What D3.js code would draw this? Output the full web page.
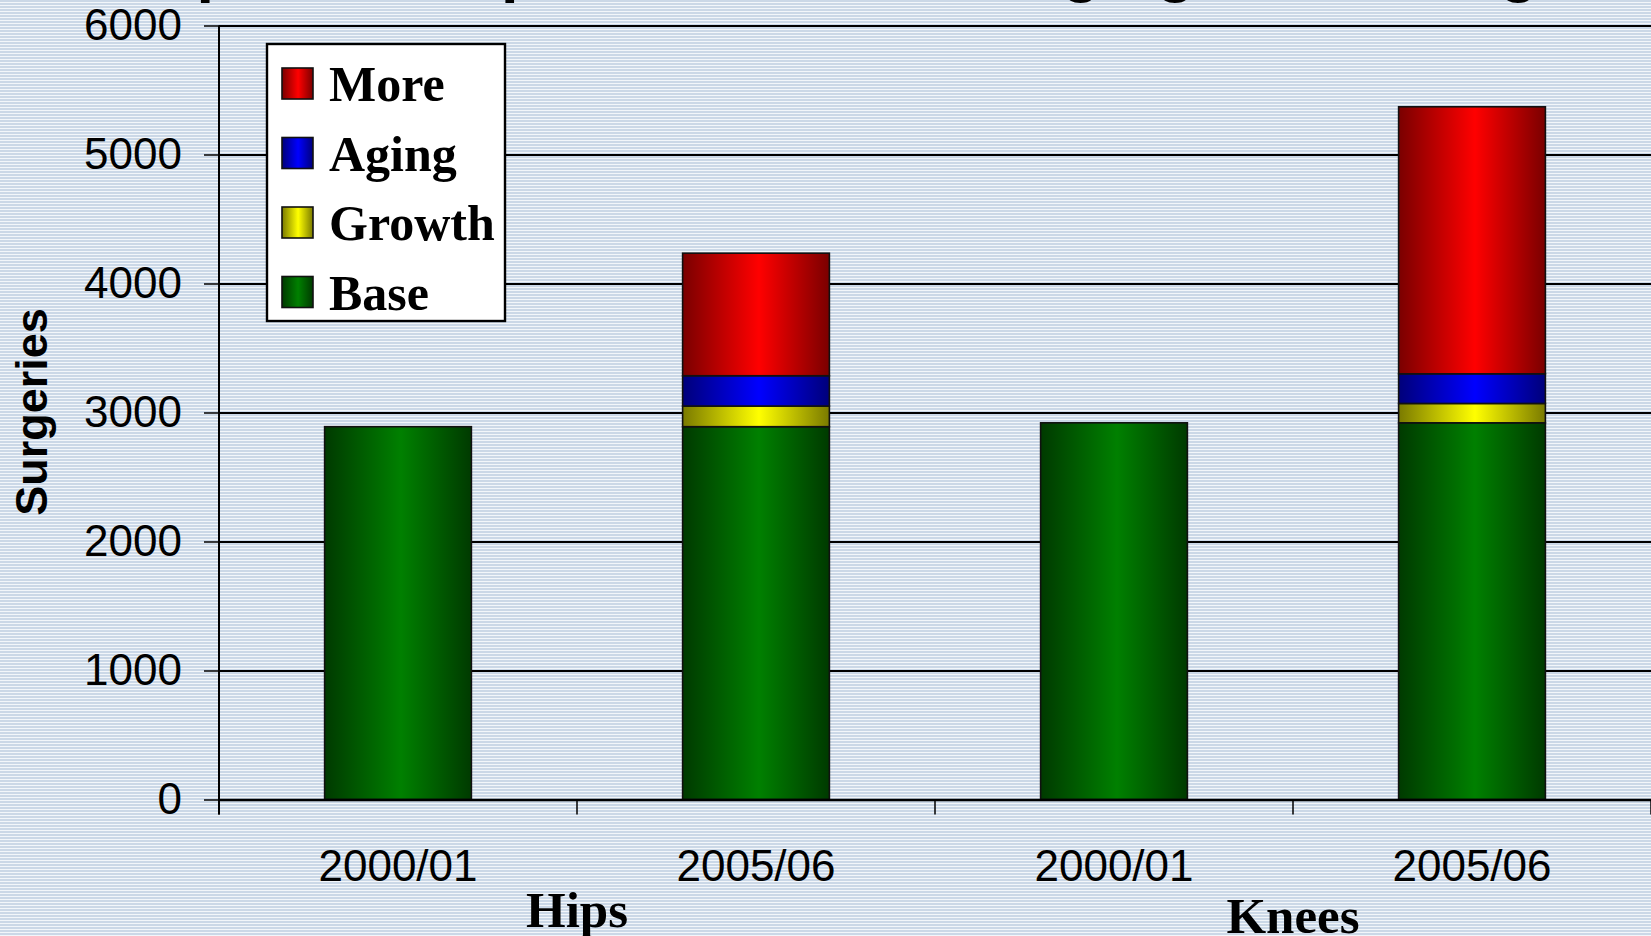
<!DOCTYPE html>
<html><head><meta charset="utf-8">
<script src="https://cdn.jsdelivr.net/npm/d3@7"></script>
<style>body{margin:0;overflow:hidden;background:#fff} svg{display:block}</style>
</head><body>
<script>
// ---- data ----
const categories = ["2000/01", "2005/06", "2000/01", "2005/06"];
const groups = ["Hips", "Knees"];
const base   = [2890, 2890, 2920, 2920];
const growth = [0, 160, 0, 150];
const aging  = [0, 235, 0, 230];
const more   = [0, 950, 0, 2070];
const seriesNames = ["Base", "Growth", "Aging", "More"];
const yTicks = [0, 1000, 2000, 3000, 4000, 5000, 6000];
const yTitle = "Surgeries";
const titleText = "Impact of Population Growth, Aging and Change";

// ---- layout ----
const W = 1651, H = 936;
const plot = {left: 219, right: 1651, top: 25.5, bottom: 799.5};
const colors = {
  Base:   ["#003a00", "#008000"],
  Growth: ["#7a7a00", "#ffff00"],
  Aging:  ["#00007a", "#0000ff"],
  More:   ["#7a0000", "#ff0000"]
};
const sans = "'Liberation Sans', Arial, sans-serif";
const serif = "'Liberation Serif', 'Times New Roman', serif";

const svg = d3.select("body").append("svg").attr("width", W).attr("height", H);
const defs = svg.append("defs");

// striped background
const pat = defs.append("pattern").attr("id", "stripes").attr("patternUnits", "userSpaceOnUse")
  .attr("width", 8).attr("height", 3);
pat.append("rect").attr("width", 8).attr("height", 3).attr("fill", "#f2f6fa");
pat.append("rect").attr("width", 8).attr("height", 2).attr("fill", "#cbd8e7");
svg.append("rect").attr("width", W).attr("height", H).attr("fill", "url(#stripes)");

// gradients
seriesNames.forEach(s => {
  const g = defs.append("linearGradient").attr("id", "g-" + s)
    .attr("x1", 0).attr("x2", 1).attr("y1", 0).attr("y2", 0);
  g.append("stop").attr("offset", "0%").attr("stop-color", colors[s][0]);
  g.append("stop").attr("offset", "52%").attr("stop-color", colors[s][1]);
  g.append("stop").attr("offset", "100%").attr("stop-color", colors[s][0]);
});

// title (mostly above the visible area)
svg.append("text").attr("x", 123).attr("y", -10)
  .attr("font-family", sans).attr("font-weight", "bold").attr("font-size", 63)
  .attr("fill", "#000").text(titleText);

// scales
const idx = categories.map((c, i) => i);
const x = d3.scaleBand().domain(idx).range([plot.left, plot.right]).padding(0);
const y = d3.scaleLinear().domain([0, 6000]).range([plot.bottom, plot.top]);

// gridlines
svg.append("g").attr("transform", `translate(${plot.left},0)`)
  .call(d3.axisLeft(y).tickValues(yTicks).tickSize(-(plot.right - plot.left)).tickFormat(""))
  .call(g => g.select(".domain").remove())
  .call(g => g.selectAll("line").attr("stroke", "#000").attr("stroke-width", 2.2));

// bars
const rows = idx.map(i => ({key: i, Base: base[i], Growth: growth[i], Aging: aging[i], More: more[i]}));
const stacked = d3.stack().keys(seriesNames)(rows);
const barFrac = 0.41;
const bw = x.bandwidth() * barFrac;
const barG = svg.append("g");
stacked.forEach(layer => {
  barG.selectAll(null).data(layer.filter(d => d[1] - d[0] > 0)).enter().append("rect")
    .attr("x", d => x(d.data.key) + (x.bandwidth() - bw) / 2)
    .attr("width", bw)
    .attr("y", d => y(d[1]))
    .attr("height", d => y(d[0]) - y(d[1]))
    .attr("fill", `url(#g-${layer.key})`)
    .attr("stroke", "#111").attr("stroke-width", 1.6);
});

// y axis
const yAxis = svg.append("g").attr("transform", `translate(${plot.left},0)`)
  .call(d3.axisLeft(y).tickValues(yTicks).tickSize(15).tickPadding(22).tickFormat(d3.format("d")));
yAxis.select(".domain").remove();
yAxis.selectAll("line").attr("stroke", "#000").attr("stroke-width", 1.5);
yAxis.selectAll("text").attr("font-family", sans).attr("font-size", 44).attr("fill", "#000");
svg.append("line").attr("x1", plot.left).attr("x2", plot.left)
  .attr("y1", y(6000)).attr("y2", y(0) + 15).attr("stroke", "#000").attr("stroke-width", 2);

// x axis
const xAxis = svg.append("g").attr("transform", `translate(0,${y(0)})`)
  .call(d3.axisBottom(x).tickSize(0).tickPadding(50).tickFormat(i => categories[i]));
xAxis.select(".domain").attr("stroke", "#000").attr("stroke-width", 2.5);
xAxis.selectAll("text").attr("font-family", sans).attr("font-size", 44).attr("fill", "#000");
// boundary ticks
svg.append("g").selectAll("line").data(idx.concat([idx.length])).enter().append("line")
  .attr("x1", i => i < idx.length ? x(i) : x(idx.length - 1) + x.bandwidth())
  .attr("x2", i => i < idx.length ? x(i) : x(idx.length - 1) + x.bandwidth())
  .attr("y1", y(0)).attr("y2", y(0) + 15).attr("stroke", "#000").attr("stroke-width", 1.5);

// group labels
const groupBaselines = [927, 933];
svg.append("g").selectAll("text").data(groups).enter().append("text")
  .attr("x", (g, gi) => (x(gi * 2) + x(gi * 2 + 1) + x.bandwidth()) / 2)
  .attr("y", (g, gi) => groupBaselines[gi])
  .attr("text-anchor", "middle")
  .attr("font-family", serif).attr("font-weight", "bold").attr("font-size", 51)
  .attr("fill", "#000").text(g => g);

// y title
svg.append("text").attr("transform", "translate(47,412) rotate(-90)")
  .attr("text-anchor", "middle")
  .attr("font-family", sans).attr("font-weight", "bold").attr("font-size", 45)
  .attr("fill", "#000").text(yTitle);

// legend
const leg = svg.append("g");
leg.append("rect").attr("x", 267).attr("y", 44).attr("width", 238).attr("height", 277)
  .attr("fill", "#fff").attr("stroke", "#000").attr("stroke-width", 2.4);
const legOrder = seriesNames.slice().reverse();
const legItems = leg.selectAll("g.item").data(legOrder).enter().append("g")
  .attr("transform", (d, i) => `translate(0,${i * 69.5})`);
legItems.append("rect").attr("x", 282).attr("y", 68).attr("width", 31).attr("height", 31)
  .attr("fill", d => `url(#g-${d})`).attr("stroke", "#111").attr("stroke-width", 1.6);
legItems.append("text").attr("x", 329).attr("y", 101)
  .attr("font-family", serif).attr("font-weight", "bold").attr("font-size", 50)
  .attr("fill", "#000").text(d => d);
</script>
</body></html>
